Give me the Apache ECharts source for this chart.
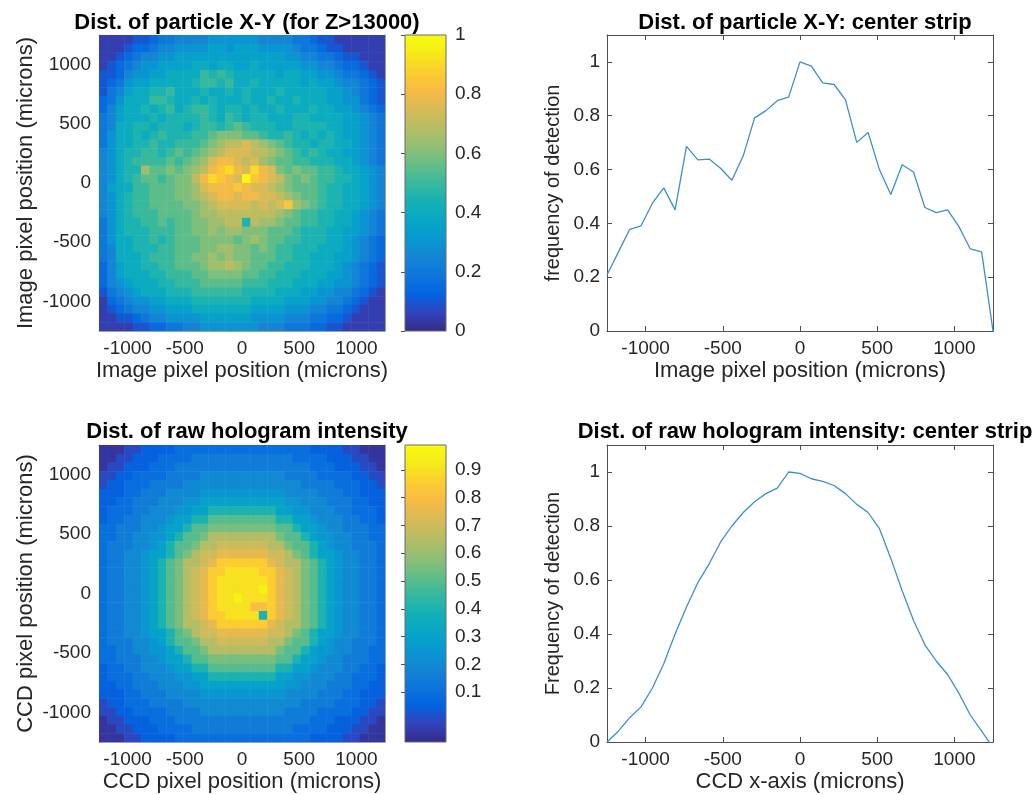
<!DOCTYPE html>
<html>
<head>
<meta charset="utf-8">
<script src="https://cdn.jsdelivr.net/npm/echarts@6/dist/echarts.min.js"></script>
<style>
  html, body { margin: 0; padding: 0; background: #ffffff; }
  #chart { width: 1033px; height: 795px; }
</style>
</head>
<body>
<div id="chart"></div>
<script>
// Sample grid positions (microns): 35 points across the 2500-micron field.
const gridPos = [-1250, -1176.47, -1102.94, -1029.41, -955.88, -882.35, -808.82, -735.29,
  -661.76, -588.24, -514.71, -441.18, -367.65, -294.12, -220.59, -147.06, -73.53, 0,
  73.53, 147.06, 220.59, 294.12, 367.65, 441.18, 514.71, 588.24, 661.76, 735.29,
  808.82, 882.35, 955.88, 1029.41, 1102.94, 1176.47, 1250];

const posTicks = [-1000, -500, 0, 500, 1000];
const freqTicks = [0, 0.2, 0.4, 0.6, 0.8, 1];
const particleBarTicks = [0, 0.2, 0.4, 0.6, 0.8, 1];
const hologramBarTicks = [0.1, 0.2, 0.3, 0.4, 0.5, 0.6, 0.7, 0.8, 0.9];

// Centre-strip profiles sampled at gridPos.
const particleStrip = [0.208, 0.293, 0.378, 0.391, 0.475, 0.532, 0.450, 0.686, 0.636,
  0.639, 0.605, 0.560, 0.651, 0.792, 0.819, 0.856, 0.869, 1.000, 0.984, 0.922, 0.916,
  0.860, 0.701, 0.738, 0.599, 0.507, 0.618, 0.591, 0.459, 0.440, 0.450, 0.388, 0.305,
  0.294, 0.0];
const hologramStrip = [0.0, 0.04, 0.09, 0.13, 0.20, 0.29, 0.40, 0.50, 0.59, 0.66, 0.74,
  0.80, 0.85, 0.89, 0.92, 0.94, 1.0, 0.995, 0.975, 0.965, 0.95, 0.92, 0.88, 0.85, 0.79,
  0.68, 0.56, 0.45, 0.36, 0.30, 0.25, 0.18, 0.10, 0.04, -0.02];

// 34 x 34 cell maps, top row first. Each character is a level 0..20 ('0'-'9','a'-'k').
const particleRows = [
  "11112 23445 55566 66665 55544 32211 1111",
  "11123 34556 66677 67776 66654 43221 1111",
  "11234 55667 77777 77777 77665 54432 2111",
  "12345 66777 78878 87787 77776 65543 3211",
  "22356 67788 88a9a 98888 87887 76654 4321",
  "23467 78888 89aa9 a8898 88887 87765 5432",
  "24578 899a8 88988 98988 89888 88776 5432",
  "34688 8aa98 89898 88988 98898 88776 6432",
  "35788 989a8 9aa98 99898 89888 98877 6543",
  "45788 89899 99a98 a9899 88899 88887 7654",
  "45889 98999 89aa9 aba99 98899 99887 7654",
  "46889 89a99 9aabc ccbba 99a98 98987 7654",
  "46889 9a99a aabcd eefed cba99 89988 7654",
  "56899 aa9ab abcde fffee dcba9 a9887 7654",
  "5689a aaaba bcdfg gfefd cbbaa 99988 7654",
  "56899 dbbcb cdegh igfig fcbcb baa98 8765",
  "5689a bbabc cegih gfkhg fecbc baa99 8765",
  "5788a abbbc cdfgg ghgff edcbb ba998 8765",
  "5689a abbbc cdefg gfggf fedcb ba998 8765",
  "5689a abbbb ccdef fffef efhdc ba998 8765",
  "5689a aabbb bcdde eeeee edcba a9988 7654",
  "46899 aabab bccdd ee9ed dcbba a9988 7654",
  "46899 9aaab bccdc ddccc bbba9 99887 7654",
  "46889 9a9ab bbccc cbcdc bbaa9 99887 6543",
  "45889 99aab bbccd dccbc baa99 98887 6543",
  "45888 9aaab bccdc dccbb baa99 88877 6543",
  "35788 99aab bbcdd edcbb aa999 88876 5432",
  "35788 899aa abbcc ccbba a9998 88776 5432",
  "35678 8899a aabbb bbaaa 99988 87766 5432",
  "24567 88899 9aaaa aa999 98887 76655 4321",
  "13456 67788 89999 99988 88777 66554 3211",
  "12345 56677 78888 88877 77666 55443 2111",
  "11223 45566 66777 77766 66555 44332 1111",
  "11112 23344 55666 66665 55444 33221 1111"
];

const hologramRows = [
  "00011222233333333 33333333222211000",
  "00112223333444444 44444433332221100",
  "01122233344444444 44444444333222110",
  "11223333444455555 55555444433332211",
  "12233344445555555 55555554444333221",
  "22233444555566666 66666555544433222",
  "22334445556677777 77777665554443322",
  "23334455566779999 99997766555443332",
  "2334455567799bbbb bbbb9977655544332",
  "33444556779bbcccc ccccbb97765544433",
  "3344556679bbceeee eeeecbb9766554433",
  "344455679bbceefff fffeecbb976554443",
  "344556779bceffggg gggffecb977655443",
  "34455679bceefgiii iiigfeecb97655443",
  "34455679bcefgiijj jjiigfecb97655443",
  "34455679bcefgijjj jjjigfecb97655443",
  "34455679bcefgijjj jjkigfecb97655443",
  "34455679bcefgijjk jjjigfecb97655443",
  "34455679bcefgijjj jhhigfecb97655443",
  "34455679bcefgiijj jj9igfecb97655443",
  "34455679bceefgiii iiigfeecb97655443",
  "344556779bceffggg gggffecb977655443",
  "344455679bbceefff fffeecbb976554443",
  "3344556679bbceeee eeeecbb9766554433",
  "33444556779bbcccc ccccbb97765544433",
  "2334455567799bbbb bbbb9977655544332",
  "23334455566779999 99997766555443332",
  "22334445556677777 77777665554443322",
  "22233444555566666 66666555544433222",
  "12233344445555555 55555554444333221",
  "11223333444455555 55555444433332211",
  "01122233344444444 44444444333222110",
  "00112223333444444 44444433332221100",
  "00011222233333333 33333333222211000"
];

// Parula colour map stops (low to high).
const parula = ['#352a87', '#3243ba', '#0363e1', '#0d75dc', '#1485d4', '#0998d1',
  '#06a7c6', '#15b1b4', '#38b99e', '#65be86', '#92bf73', '#b7bd64', '#d9ba56',
  '#f8bb44', '#fcce2e', '#f5eb18', '#f9fb0e'];

const LEVELS = '0123456789abcdefghijk';
const FONT = '"Liberation Sans", Arial, Helvetica, sans-serif';
const AXIS_COLOR = '#505050';
const TEXT_COLOR = '#262626';
const HOLO_MIN = -0.08;
const HOLO_MAX = 0.99;

// Turn level rows into cells [xLeft, xRight, yTop, yBottom, value].
function buildCells(rows, offset) {
  const cells = [];
  rows.forEach(function (row, r) {
    const s = row.replace(/ /g, '');
    for (let c = 0; c < s.length; c++) {
      const v = LEVELS.indexOf(s[c]) / 20 + offset;
      cells.push([gridPos[c], gridPos[c + 1], gridPos[34 - r], gridPos[33 - r], v]);
    }
  });
  return cells;
}

const particleCells = buildCells(particleRows, 0);
const hologramCells = buildCells(hologramRows, -0.05);

function renderCell(params, api) {
  const p0 = api.coord([api.value(0), api.value(2)]);
  const p1 = api.coord([api.value(1), api.value(3)]);
  return {
    type: 'rect',
    shape: {
      x: Math.min(p0[0], p1[0]),
      y: Math.min(p0[1], p1[1]),
      width: Math.abs(p1[0] - p0[0]) + 0.5,
      height: Math.abs(p1[1] - p0[1]) + 0.5
    },
    style: { fill: api.visual('color') }
  };
}

const gradientStops = parula.map(function (c, i) {
  return { offset: i / (parula.length - 1), color: c };
});

function renderColorbar(params, api) {
  const p0 = api.coord([api.value(0), api.value(3)]);
  const p1 = api.coord([api.value(1), api.value(2)]);
  return {
    type: 'rect',
    shape: { x: p0[0], y: p0[1], width: p1[0] - p0[0], height: p1[1] - p0[1] },
    style: {
      fill: { type: 'linear', x: 0, y: 1, x2: 0, y2: 0, colorStops: gradientStops },
      stroke: '#6a6a6a',
      lineWidth: 1
    }
  };
}

const fmt = function (v) { return String(Math.round(v * 1000) / 1000); };

function posAxis(gridIndex, pos, opts) {
  opts = opts || {};
  const main = pos === 'bottom' || pos === 'left';
  return {
    type: 'value', gridIndex: gridIndex, position: pos,
    min: -1250, max: 1250,
    name: main ? opts.name : '',
    nameLocation: 'middle',
    nameGap: opts.nameGap,
    nameRotate: (pos === 'left') ? 90 : 0,
    nameTextStyle: { fontFamily: FONT, fontSize: 22, color: TEXT_COLOR },
    axisLine: { show: true, onZero: false, lineStyle: { color: opts.heat ? '#a0a0a0' : AXIS_COLOR, width: 1 } },
    axisTick: { show: !opts.heat, inside: true, length: 5, customValues: posTicks,
      lineStyle: { color: AXIS_COLOR, width: 1 } },
    axisLabel: { show: main, customValues: posTicks, formatter: fmt, margin: 8,
      fontFamily: FONT, fontSize: 19, color: TEXT_COLOR },
    splitLine: { show: false }
  };
}

function freqAxis(gridIndex, pos, name) {
  const main = pos === 'left';
  return {
    type: 'value', gridIndex: gridIndex, position: pos,
    min: 0, max: 1.1,
    name: main ? name : '',
    nameLocation: 'middle', nameGap: 44, nameRotate: 90,
    nameTextStyle: { fontFamily: FONT, fontSize: 20, color: TEXT_COLOR },
    axisLine: { show: true, onZero: false, lineStyle: { color: AXIS_COLOR, width: 1 } },
    axisTick: { show: true, inside: true, length: 5, customValues: freqTicks,
      lineStyle: { color: AXIS_COLOR, width: 1 } },
    axisLabel: { show: main, customValues: freqTicks, formatter: fmt, margin: 7,
      fontFamily: FONT, fontSize: 19, color: TEXT_COLOR },
    splitLine: { show: false }
  };
}

function barXAxis(gridIndex) {
  return { type: 'value', gridIndex: gridIndex, min: 0, max: 1, show: false };
}

function barYAxis(gridIndex, min, max, ticks) {
  return {
    type: 'value', gridIndex: gridIndex, position: 'right', min: min, max: max,
    axisLine: { show: false },
    axisTick: { show: true, inside: true, length: 4, customValues: ticks,
      lineStyle: { color: AXIS_COLOR, width: 1 } },
    axisLabel: { show: true, customValues: ticks, formatter: fmt, margin: 9,
      fontFamily: FONT, fontSize: 19, color: TEXT_COLOR },
    splitLine: { show: false }
  };
}

const titleStyle = { fontFamily: FONT, fontSize: 22, fontWeight: 'bold', color: '#000000' };

const option = {
  animation: false,
  backgroundColor: '#ffffff',
  title: [
    { text: 'Dist. of particle X-Y (for Z>13000)', left: 242, top: 7, textAlign: 'center', textStyle: titleStyle },
    { text: 'Dist. of particle X-Y: center strip', left: 800, top: 7, textAlign: 'center', textStyle: titleStyle },
    { text: 'Dist. of raw hologram intensity', left: 242, top: 416, textAlign: 'center', textStyle: titleStyle },
    { text: 'Dist. of raw hologram intensity: center strip', left: 800, top: 416, textAlign: 'center', textStyle: titleStyle }
  ],
  grid: [
    { left: 99, top: 35, width: 286, height: 296 },
    { left: 405, top: 35, width: 41, height: 296 },
    { left: 607, top: 35, width: 386, height: 296 },
    { left: 99, top: 445, width: 286, height: 297 },
    { left: 405, top: 445, width: 41, height: 297 },
    { left: 607, top: 445, width: 386, height: 297 }
  ],
  xAxis: [
    posAxis(0, 'bottom', { heat: true, name: 'Image pixel position (microns)', nameGap: 29 }),
    posAxis(0, 'top', { heat: true }),
    barXAxis(1),
    posAxis(2, 'bottom', { name: 'Image pixel position (microns)', nameGap: 29 }),
    posAxis(2, 'top', {}),
    posAxis(3, 'bottom', { heat: true, name: 'CCD pixel position (microns)', nameGap: 29 }),
    posAxis(3, 'top', { heat: true }),
    barXAxis(4),
    posAxis(5, 'bottom', { name: 'CCD x-axis (microns)', nameGap: 29 }),
    posAxis(5, 'top', {})
  ],
  yAxis: [
    posAxis(0, 'left', { heat: true, name: 'Image pixel position (microns)', nameGap: 62 }),
    posAxis(0, 'right', { heat: true }),
    barYAxis(1, 0, 1, particleBarTicks),
    freqAxis(2, 'left', 'frequency of detection'),
    freqAxis(2, 'right', ''),
    posAxis(3, 'left', { heat: true, name: 'CCD pixel position (microns)', nameGap: 62 }),
    posAxis(3, 'right', { heat: true }),
    barYAxis(4, HOLO_MIN, HOLO_MAX, hologramBarTicks),
    freqAxis(5, 'left', 'Frequency of detection'),
    freqAxis(5, 'right', '')
  ],
  visualMap: [
    { type: 'continuous', show: false, seriesIndex: 0, dimension: 4, min: 0, max: 1,
      inRange: { color: parula } },
    { type: 'continuous', show: false, seriesIndex: 3, dimension: 4, min: HOLO_MIN, max: HOLO_MAX,
      inRange: { color: parula } }
  ],
  series: [
    { type: 'custom', xAxisIndex: 0, yAxisIndex: 0, renderItem: renderCell,
      encode: { x: [0, 1], y: [2, 3] }, data: particleCells, clip: true },
    { type: 'custom', xAxisIndex: 2, yAxisIndex: 2, renderItem: renderColorbar,
      encode: { x: [0, 1], y: [2, 3] }, data: [[0, 1, 0, 1]] },
    { type: 'line', xAxisIndex: 3, yAxisIndex: 3, showSymbol: false, clip: true,
      lineStyle: { color: '#3a8fd8', width: 1.3 },
      data: gridPos.map(function (x, i) { return [x, particleStrip[i]]; }) },
    { type: 'custom', xAxisIndex: 5, yAxisIndex: 5, renderItem: renderCell,
      encode: { x: [0, 1], y: [2, 3] }, data: hologramCells, clip: true },
    { type: 'custom', xAxisIndex: 7, yAxisIndex: 7, renderItem: renderColorbar,
      encode: { x: [0, 1], y: [2, 3] }, data: [[0, 1, HOLO_MIN, HOLO_MAX]] },
    { type: 'line', xAxisIndex: 8, yAxisIndex: 8, showSymbol: false, clip: true,
      lineStyle: { color: '#3a8fd8', width: 1.3 },
      data: gridPos.map(function (x, i) { return [x, hologramStrip[i]]; }) }
  ]
};

const chart = echarts.init(document.getElementById('chart'));
chart.setOption(option);
</script>
</body>
</html>
